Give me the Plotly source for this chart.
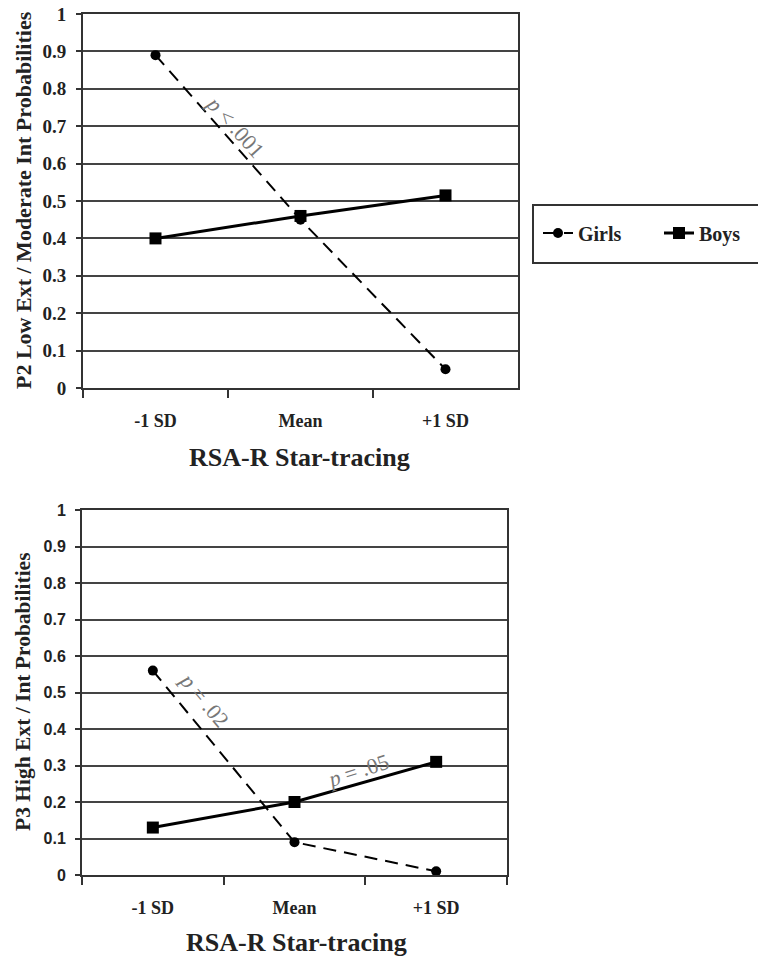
import plotly.graph_objects as go

categories = ["-1 SD", "Mean", "+1 SD"]
top_girls = [0.89, 0.45, 0.05]
top_boys = [0.40, 0.46, 0.515]
bot_girls = [0.56, 0.09, 0.01]
bot_boys = [0.13, 0.20, 0.31]
y_ticks = [0, 0.1, 0.2, 0.3, 0.4, 0.5, 0.6, 0.7, 0.8, 0.9, 1]
y_tick_text = ["0", "0.1", "0.2", "0.3", "0.4", "0.5", "0.6", "0.7", "0.8", "0.9", "1"]

W, H = 758, 961
SERIF = "Liberation Serif, Times New Roman, serif"
SANS = "Liberation Sans, Arial, sans-serif"
INK = "#222"

def px_x(x):
    return x / W

def px_y(y):
    return 1 - y / H

fig = go.Figure()

girls_line = dict(color="black", width=2, dash="13px,8px")
boys_line = dict(color="black", width=3)
girls_marker = dict(symbol="circle", size=10, color="black")
boys_marker = dict(symbol="square", size=12, color="black")

fig.add_trace(go.Scatter(x=categories, y=top_girls, mode="lines+markers", name="Girls",
                         line=girls_line, marker=girls_marker, xaxis="x", yaxis="y", cliponaxis=False))
fig.add_trace(go.Scatter(x=categories, y=top_boys, mode="lines+markers", name="Boys",
                         line=boys_line, marker=boys_marker, xaxis="x", yaxis="y", cliponaxis=False))
fig.add_trace(go.Scatter(x=categories, y=bot_girls, mode="lines+markers", name="Girls",
                         line=girls_line, marker=girls_marker, xaxis="x2", yaxis="y2",
                         showlegend=False, cliponaxis=False))
fig.add_trace(go.Scatter(x=categories, y=bot_boys, mode="lines+markers", name="Boys",
                         line=boys_line, marker=boys_marker, xaxis="x2", yaxis="y2",
                         showlegend=False, cliponaxis=False))

def xaxis(domain, anchor):
    return dict(domain=domain, anchor=anchor, type="category", tickson="boundaries",
                ticks="outside", ticklen=8, tickwidth=1.5, tickcolor="#333",
                showline=True, linecolor="#333", linewidth=2, mirror=True,
                showgrid=False, zeroline=False,
                tickfont=dict(family=SERIF, size=18, color=INK, weight="bold"),
                ticklabelstandoff=15,
                range=[-0.5, 2.5], fixedrange=True)

def yaxis(domain, anchor, font):
    return dict(domain=domain, anchor=anchor, range=[0, 1],
                tickvals=y_ticks, ticktext=y_tick_text,
                ticks="outside", ticklen=5, tickwidth=1.5, tickcolor="#333",
                showline=True, linecolor="#333", linewidth=2, mirror=True,
                showgrid=True, gridcolor="#444", gridwidth=2, zeroline=False,
                tickfont=font, ticklabelstandoff=6)

fig.update_layout(
    width=W, height=H,
    margin=dict(l=0, r=0, t=0, b=0, autoexpand=False),
    paper_bgcolor="white", plot_bgcolor="white",
    xaxis=xaxis([px_x(83), px_x(518)], "y"),
    yaxis=yaxis([px_y(388), px_y(14)], "x", dict(family=SERIF, size=19, color=INK, weight="bold")),
    xaxis2=xaxis([px_x(82), px_x(507)], "y2"),
    yaxis2=yaxis([px_y(875), px_y(510)], "x2", dict(family=SANS, size=16, color=INK, weight="bold")),
    showlegend=True,
    legend=dict(orientation="h", x=px_x(538), y=px_y(233), xanchor="left", yanchor="middle",
                borderwidth=0, bgcolor="rgba(0,0,0,0)",
                font=dict(family=SERIF, size=20, color=INK, weight="bold"),
                entrywidth=76, entrywidthmode="pixels", tracegroupgap=0),
    shapes=[dict(type="rect", xref="paper", yref="paper",
                 x0=px_x(533), x1=px_x(800), y0=px_y(263), y1=px_y(205),
                 line=dict(color="#333", width=2), fillcolor="rgba(0,0,0,0)", layer="below")],
)

ann = []
# axis titles
ann.append(dict(text="<b>RSA-R Star-tracing</b>", x=px_x(299), y=px_y(457), xref="paper", yref="paper",
                xanchor="center", yanchor="middle",
                showarrow=False, font=dict(family=SERIF, size=26, color=INK)))
ann.append(dict(text="<b>RSA-R Star-tracing</b>", x=px_x(296), y=px_y(942), xref="paper", yref="paper",
                xanchor="center", yanchor="middle",
                showarrow=False, font=dict(family=SERIF, size=26, color=INK)))
ann.append(dict(text="<b>P2 Low Ext / Moderate Int Probabilities</b>", x=px_x(23), y=px_y(200),
                xref="paper", yref="paper", xanchor="center", yanchor="middle",
                showarrow=False, textangle=-90,
                font=dict(family=SERIF, size=22, color=INK)))
ann.append(dict(text="<b>P3 High Ext / Int Probabilities</b>", x=px_x(23), y=px_y(692),
                xref="paper", yref="paper", xanchor="center", yanchor="middle",
                showarrow=False, textangle=-90,
                font=dict(family=SERIF, size=21.5, color=INK)))
# p-value labels
ann.append(dict(text="<i>p</i> < .001", x=0.55, y=0.70, xref="x", yref="y", showarrow=False,
                xanchor="center", yanchor="middle",
                textangle=48, font=dict(family=SERIF, size=22, color="#777")))
ann.append(dict(text="<i>p</i> = .02", x=0.36, y=0.48, xref="x2", yref="y2", showarrow=False,
                xanchor="center", yanchor="middle",
                textangle=50, font=dict(family=SERIF, size=22, color="#777")))
ann.append(dict(text="<i>p</i> = .05", x=1.45, y=0.285, xref="x2", yref="y2", showarrow=False,
                xanchor="center", yanchor="middle",
                textangle=-18, font=dict(family=SERIF, size=22, color="#777")))
fig.update_layout(annotations=ann)

fig.write_html("out.html")
